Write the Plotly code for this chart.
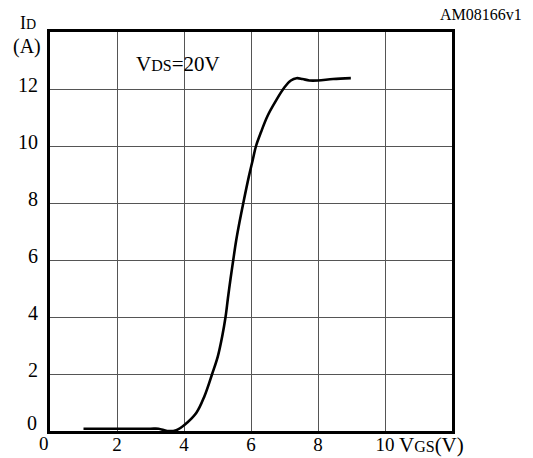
import plotly.graph_objects as go

# Data
vgs = [1.0, 2.0, 3.0, 3.24, 3.5, 3.77, 4.02, 4.37, 4.61, 4.84, 5.01, 5.14,
       5.24, 5.31, 5.39, 5.47, 5.56, 5.66, 5.77, 5.93, 6.05, 6.15, 6.30, 6.50,
       6.75, 7.0, 7.19, 7.36, 7.54, 7.74, 8.0, 8.45, 8.98]
id_a = [0.08, 0.08, 0.08, 0.08, 0.0, 0.03, 0.22, 0.64, 1.22, 2.0, 2.62, 3.32,
        4.0, 4.65, 5.35, 6.0, 6.7, 7.35, 8.0, 8.9, 9.5, 10.0, 10.49, 11.07,
        11.6, 12.06, 12.3, 12.38, 12.35, 12.3, 12.3, 12.35, 12.38]

x_ticks = [2, 4, 6, 8, 10]
y_ticks = [2, 4, 6, 8, 10, 12]

FONT = "Liberation Serif, Times New Roman, serif"

fig = go.Figure()
fig.add_trace(go.Scatter(
    x=vgs, y=id_a, mode="lines",
    line=dict(color="black", width=2.6, shape="spline", smoothing=1.0),
    hoverinfo="skip", showlegend=False,
))

fig.update_layout(
    width=533, height=458,
    margin=dict(l=50, r=81, t=32, b=27),
    paper_bgcolor="white", plot_bgcolor="white",
    font=dict(family=FONT, color="black", size=19),
    xaxis=dict(
        range=[0, 12], tickvals=x_ticks, ticktext=[str(v) for v in x_ticks],
        showgrid=True, gridcolor="#555555", gridwidth=1.2,
        showline=True, linecolor="black", linewidth=3, mirror=True,
        ticks="", zeroline=False, tickfont=dict(size=19), automargin=False,
        ticklabelstandoff=-6,
    ),
    yaxis=dict(
        range=[0, 14], tickvals=y_ticks, ticktext=[str(v) for v in y_ticks],
        showgrid=True, gridcolor="#555555", gridwidth=1.2,
        showline=True, linecolor="black", linewidth=3, mirror=True,
        ticks="", zeroline=False, tickfont=dict(size=20), automargin=False,
        ticklabelstandoff=5, ticklabelshift=-4,
    ),
)

annotations = [
    # zero labels
    dict(x=0, y=0, xref="x", yref="y", text="0", showarrow=False,
         xanchor="center", yanchor="top", xshift=-6, yshift=0,
         font=dict(size=19)),
    dict(x=0, y=0, xref="x", yref="y", text="0", showarrow=False,
         xanchor="right", yanchor="middle", xshift=-11, yshift=8,
         font=dict(size=20)),
    dict(x=10, y=0, xref="x", yref="y", xshift=12, yshift=0,
         text="V<span style='font-size:16px'>GS</span>(V)", showarrow=False,
         xanchor="left", yanchor="top", font=dict(size=21)),
    dict(x=0, y=1, xref="paper", yref="paper", xshift=-22, yshift=9,
         text="I<span style='font-size:14px'>D</span>", showarrow=False,
         xanchor="center", yanchor="middle", font=dict(size=18)),
    dict(x=0, y=1, xref="paper", yref="paper", xshift=-23, yshift=-14,
         text="(A)", showarrow=False,
         xanchor="center", yanchor="middle", font=dict(size=20)),
    dict(x=1, y=1, xref="paper", yref="paper", xshift=72, yshift=18,
         text="AM08166v1", showarrow=False,
         xanchor="right", yanchor="middle", font=dict(size=16)),
    dict(x=2, y=13, xref="x", yref="y", xshift=17, yshift=-3,
         text="V<span style='font-size:16px'>DS</span>=20V", showarrow=False,
         xanchor="left", yanchor="middle", font=dict(size=21)),
]
fig.update_layout(annotations=annotations)

fig.write_html("out.html")
